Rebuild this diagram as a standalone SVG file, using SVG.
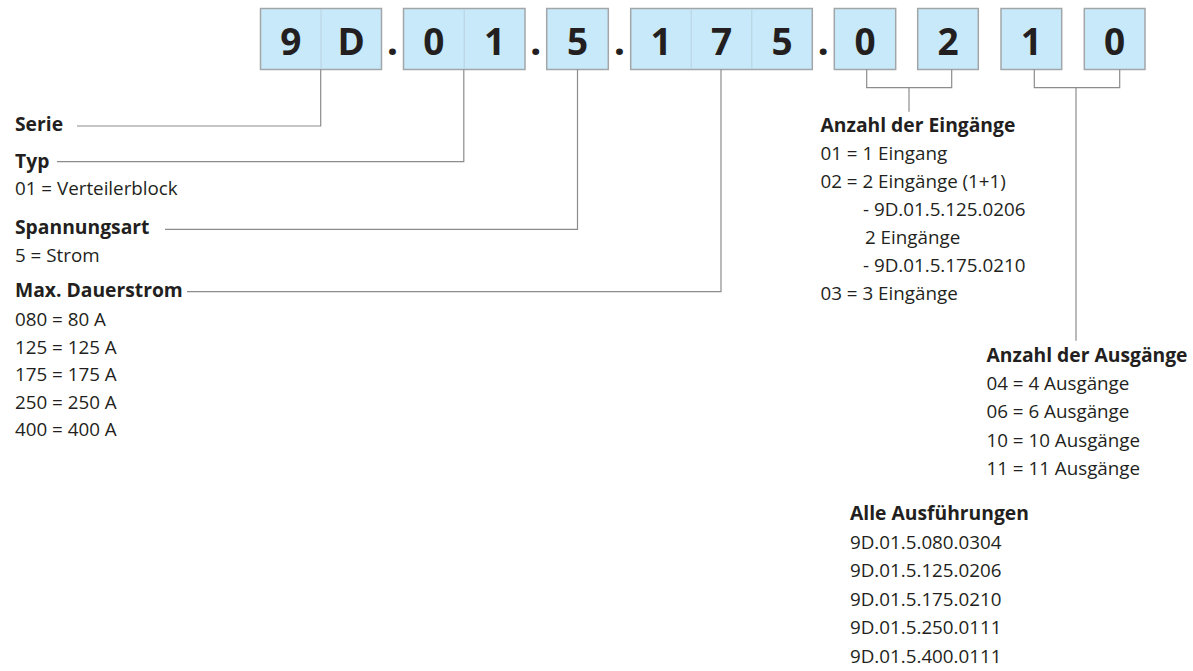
<svg xmlns="http://www.w3.org/2000/svg" width="1193" height="671" viewBox="0 0 1193 671">
<style>
  .box { fill: #c7e9f9; stroke: #a3a6a8; stroke-width: 1.5; }
  .div { stroke: #b8d2df; stroke-width: 1; }
  .big { font-family: "Open Sans", "Liberation Sans", sans-serif; font-weight: bold; font-size: 37px; fill: #231f20; text-anchor: middle; }
  .dot { font-family: "Open Sans", "Liberation Sans", sans-serif; font-weight: bold; font-size: 40px; fill: #231f20; text-anchor: middle; }
  .h { font-family: "Open Sans", "Liberation Sans", sans-serif; font-weight: bold; font-size: 19.3px; fill: #231f20; }
  .t { font-family: "Open Sans", "Liberation Sans", sans-serif; font-size: 18.8px; fill: #231f20; }
  .c { fill: none; stroke: #8c8c8c; stroke-width: 1.2; }
</style>
<rect width="1193" height="671" fill="#ffffff"/>

<g id="code-9D">
  <rect class="box" x="260.5" y="8.5" width="121" height="61"/>
  <line class="div" x1="321" y1="9.3" x2="321" y2="68.7"/>
  <text class="big" x="290.75" y="55">9</text>
  <text class="big" x="351.25" y="55">D</text>
</g>
<text class="dot" x="392.5" y="55">.</text>
<g id="code-01">
  <rect class="box" x="403.5" y="8.5" width="121.5" height="61"/>
  <line class="div" x1="464.2" y1="9.3" x2="464.2" y2="68.7"/>
  <text class="big" x="433.8" y="55">0</text>
  <text class="big" x="494.6" y="55">1</text>
</g>
<text class="dot" x="535.8" y="55">.</text>
<g id="code-5">
  <rect class="box" x="546.7" y="8.5" width="61.6" height="61"/>
  <text class="big" x="577.5" y="55">5</text>
</g>
<text class="dot" x="619.5" y="55">.</text>
<g id="code-175">
  <rect class="box" x="630.7" y="8.5" width="181.6" height="61"/>
  <line class="div" x1="691.2" y1="9.3" x2="691.2" y2="68.7"/>
  <line class="div" x1="751.8" y1="9.3" x2="751.8" y2="68.7"/>
  <text class="big" x="661" y="55">1</text>
  <text class="big" x="721.5" y="55">7</text>
  <text class="big" x="782" y="55">5</text>
</g>
<text class="dot" x="823.3" y="55">.</text>
<g id="code-0a">
  <rect class="box" x="834.3" y="8.5" width="61.4" height="61"/>
  <text class="big" x="865" y="55">0</text>
</g>
<g id="code-2">
  <rect class="box" x="917.7" y="8.5" width="60.6" height="61"/>
  <text class="big" x="948" y="55">2</text>
</g>
<g id="code-1">
  <rect class="box" x="1001" y="8.5" width="60.7" height="61"/>
  <text class="big" x="1031.3" y="55">1</text>
</g>
<g id="code-0b">
  <rect class="box" x="1084.3" y="8.5" width="60.7" height="61"/>
  <text class="big" x="1114.7" y="55">0</text>
</g>

<g id="connectors">
  <polyline class="c" points="320.7,69.5 320.7,126 77,126"/>
  <polyline class="c" points="463.8,69.5 463.8,161.7 57,161.7"/>
  <polyline class="c" points="577.5,69.5 577.5,229.3 165,229.3"/>
  <polyline class="c" points="721,69.5 721,291.7 187,291.7"/>
  <polyline class="c" points="866.7,69.5 866.7,87.7 951.7,87.7 951.7,69.5"/>
  <line class="c" x1="909" y1="87.7" x2="909" y2="111.7"/>
  <polyline class="c" points="1034.3,69.5 1034.3,87.7 1119.7,87.7 1119.7,69.5"/>
  <line class="c" x1="1076" y1="87.7" x2="1076" y2="340.7"/>
</g>

<g id="serie">
  <text class="h" x="15" y="131">Serie</text>
</g>
<g id="typ">
  <text class="h" x="15" y="167.5">Typ</text>
  <text class="t" x="15" y="195">01 = Verteilerblock</text>
</g>
<g id="spannungsart">
  <text class="h" x="15" y="234">Spannungsart</text>
  <text class="t" x="15" y="261.5">5 = Strom</text>
</g>
<g id="dauerstrom">
  <text class="h" x="15" y="297">Max. Dauerstrom</text>
  <text class="t" x="15" y="326">080 = 80 A</text>
  <text class="t" x="15" y="353.5">125 = 125 A</text>
  <text class="t" x="15" y="381">175 = 175 A</text>
  <text class="t" x="15" y="408.5">250 = 250 A</text>
  <text class="t" x="15" y="436">400 = 400 A</text>
</g>
<g id="eingaenge">
  <text class="h" x="820.5" y="131.5">Anzahl der Eingänge</text>
  <text class="t" x="820.5" y="160">01 = 1 Eingang</text>
  <text class="t" x="820.5" y="188">02 = 2 Eingänge (1+1)</text>
  <text class="t" x="863" y="216">- 9D.01.5.125.0206</text>
  <text class="t" x="865" y="244">2 Eingänge</text>
  <text class="t" x="863" y="272">- 9D.01.5.175.0210</text>
  <text class="t" x="820.5" y="300">03 = 3 Eingänge</text>
</g>
<g id="ausgaenge">
  <text class="h" x="986.5" y="361.5">Anzahl der Ausgänge</text>
  <text class="t" x="986.5" y="390">04 = 4 Ausgänge</text>
  <text class="t" x="986.5" y="418">06 = 6 Ausgänge</text>
  <text class="t" x="986.5" y="446.5">10 = 10 Ausgänge</text>
  <text class="t" x="986.5" y="475">11 = 11 Ausgänge</text>
</g>
<g id="ausfuehrungen">
  <text class="h" x="850" y="520">Alle Ausführungen</text>
  <text class="t" x="850" y="548.5">9D.01.5.080.0304</text>
  <text class="t" x="850" y="577">9D.01.5.125.0206</text>
  <text class="t" x="850" y="605.5">9D.01.5.175.0210</text>
  <text class="t" x="850" y="634">9D.01.5.250.0111</text>
  <text class="t" x="850" y="662.5">9D.01.5.400.0111</text>
</g>
</svg>
